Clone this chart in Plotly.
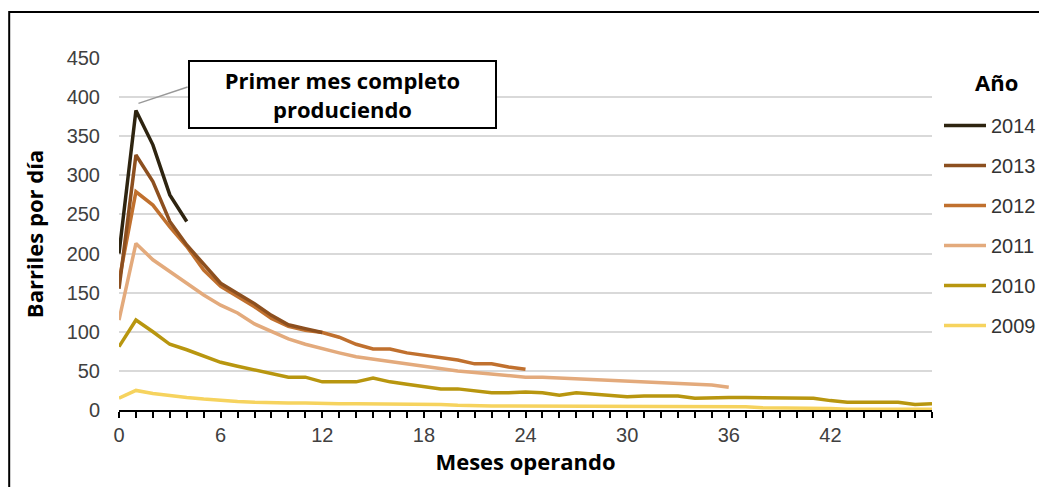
import plotly.graph_objects as go

years = ["2014", "2013", "2012", "2011", "2010", "2009"]
colors = ["#2e2410", "#8c4f1f", "#c0702e", "#e3aa7c", "#b8960f", "#f6d35e"]

v2014 = [200, 383, 339, 275, 241]
v2013 = [155, 326, 292, 241, 211, 187, 162, 149, 136, 121, 109, 104, 99]
v2012 = [165, 279, 262, 234, 209, 179, 158, 145, 132, 117, 107, 102, 99, 93, 84,
         78, 78, 73, 70, 67, 64, 59, 59, 55, 52]
v2011 = [115, 213, 192, 177, 162, 147, 134, 124, 110, 100, 91, 84, 78, 73, 68,
         65, 61, 58, 55, 52, 50, 48, 46, 44, 42, 42, 41, 40, 39, 38, 36, 35, 34,
         33, 33, 32, 29]
v2010 = [81, 115, 100, 84, 77, 69, 61, 56, 51, 46, 42, 42, 36, 36, 36, 41, 36, 33,
         30, 27, 27, 24, 22, 22, 23, 22, 19, 22, 20, 19, 17, 18, 18, 18, 15, 16,
         16, 16, 16, 16, 16, 15, 12, 10, 10, 10, 10, 7, 8]
v2009 = [15, 25, 21, 18, 16, 14, 12, 11, 10, 9, 9, 9, 8, 8, 8, 8, 8, 8, 8, 7, 6, 5,
         5, 5, 5, 5, 5, 5, 4, 4, 4, 4, 4, 4, 4, 4, 4, 4, 3, 3, 3, 3, 2, 1, 1, 1, 1,
         1, 1]
series = [v2014, v2013, v2012, v2011, v2010, v2009]

x_ticks = [0, 6, 12, 18, 24, 30, 36, 42]
x_minor_ticks = list(range(0, 49))
y_ticks = [0, 50, 100, 150, 200, 250, 300, 350, 400, 450]

fig = go.Figure()
items = list(zip(years, colors, series))
for rank, (name, col, vals) in reversed(list(enumerate(items))):
    fig.add_trace(go.Scatter(
        x=list(range(len(vals))), y=vals, mode="lines", name=name,
        legendgroup=name, legendrank=rank + 1,
        line=dict(color=col, width=3.5),
    ))

# page body has an 8px margin; figure coords = screen coords - 8
OFF = 8
W, H = 1047 - OFF, 487 - OFF
L, T = 119 - OFF, 58 - OFF
R = W - (932 - OFF)
B = H - (410 - OFF)
pw, ph = W - L - R, H - T - B

def px(xs):
    return (xs - OFF - L) / pw

def py(ys):
    return (H - B - (ys - OFF)) / ph

title_font = dict(family="Open Sans, Lato, sans-serif", size=22, color="#000000")
tick_font = dict(family="Liberation Sans, Arial, sans-serif", size=20, color="#404040")

fig.update_layout(
    width=W, height=H,
    margin=dict(l=L, r=R, t=T, b=B, autoexpand=False),
    paper_bgcolor="white", plot_bgcolor="white",
    showlegend=True,
    legend=dict(
        x=px(939), y=py(106), xanchor="left", yanchor="top",
        traceorder="grouped", tracegroupgap=11,
        font=dict(family="Liberation Sans, Arial, sans-serif", size=20, color="#333333"),
        itemwidth=42,
        bgcolor="rgba(0,0,0,0)",
    ),
    xaxis=dict(
        range=[0, 48], tickmode="array", tickvals=x_ticks,
        ticktext=[str(v) for v in x_ticks],
        showgrid=False, zeroline=False, automargin=False,
        showline=True, linecolor="#000000", linewidth=2,
        ticks="outside", ticklen=6, tickwidth=2, tickcolor="#000000",
        minor=dict(tickmode="array", tickvals=x_minor_ticks, ticks="outside",
                   ticklen=6, tickwidth=2, tickcolor="#000000", showgrid=False),
        tickfont=tick_font,
        title=dict(text="<b>Meses operando</b>", font=title_font, standoff=6),
    ),
    yaxis=dict(
        range=[0, 450], tickvals=y_ticks, ticktext=[str(v) for v in y_ticks],
        showgrid=True, gridcolor="#d9d9d9", gridwidth=1.5,
        zeroline=False, showline=False, ticks="", automargin=False,
        ticklabelstandoff=18,
        tickfont=tick_font,
        title=dict(text="<b>Barriles por día</b>", font=title_font, standoff=16),
    ),
)

# legend heading
fig.add_annotation(
    xref="paper", yref="paper", x=px(996), y=py(82),
    text="<b>Año</b>", showarrow=False, xanchor="center", yanchor="middle",
    font=dict(family="Open Sans, Lato, sans-serif", size=22, color="#000000"),
)
# callout box
fig.add_annotation(
    xref="paper", yref="paper", x=px(342.5), y=py(94.5),
    text="<b>Primer mes completo<br>produciendo</b>",
    showarrow=False, align="center",
    font=dict(family="Open Sans, Lato, sans-serif", size=22, color="#000000"),
    bgcolor="white", bordercolor="#000000", borderwidth=2,
    width=303, height=63, xanchor="center", yanchor="middle",
)
# leader line
fig.add_shape(type="line", xref="x", yref="y",
              x0=1.15, y0=392, x1=4.05, y1=413,
              line=dict(color="#999999", width=1.5))
# outer frame
fig.add_shape(type="rect", xref="paper", yref="paper",
              x0=px(9.2), y0=py(520), x1=px(1080), y1=py(12),
              line=dict(color="#000000", width=2), fillcolor="rgba(0,0,0,0)",
              layer="below")

fig.write_html("out.html")
